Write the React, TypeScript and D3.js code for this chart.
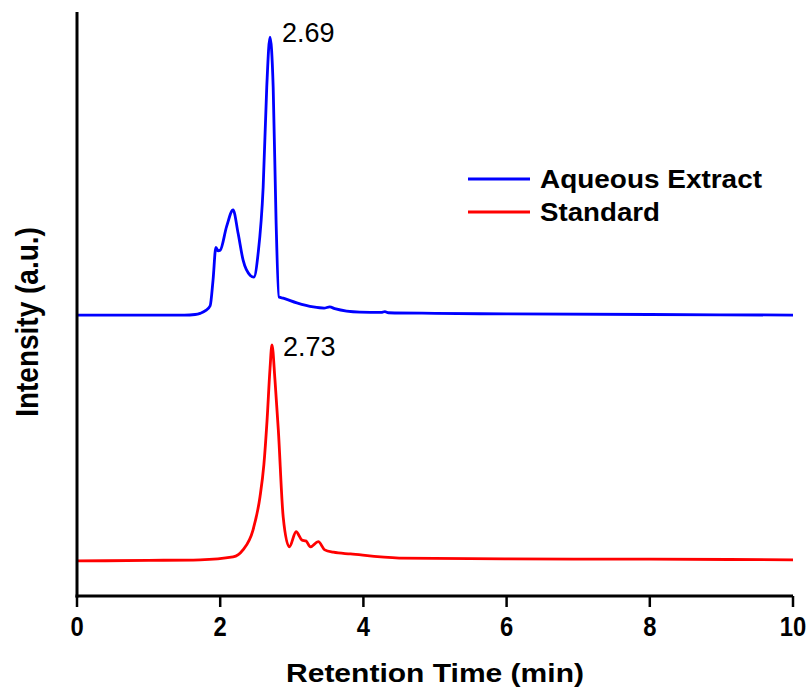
import React from "react";
import * as d3 from "d3";

const blueTime = [0, 1.0, 1.5, 1.65, 1.72, 1.8, 1.86, 1.9, 1.94, 1.97, 2.0, 2.09, 2.18, 2.25, 2.32, 2.42, 2.47, 2.53, 2.6, 2.65, 2.695, 2.74, 2.78, 2.82, 2.88, 3.07, 3.3, 3.45, 3.53, 3.6, 3.95, 4.25, 4.3, 4.35, 5, 6, 8, 10];
const blueValue = [0, 0, 0, 0.1, 0.3, 0.8, 1.6, 6.0, 11.6, 11.0, 11.1, 15.2, 18.0, 14.0, 9.4, 6.8, 6.5, 10.6, 21.9, 39.0, 47.6, 39.0, 16.3, 3.1, 2.9, 2.1, 1.4, 1.2, 1.4, 1.1, 0.5, 0.45, 0.6, 0.4, 0.3, 0.2, 0.1, 0];

const redTime = [0, 1.0, 1.72, 2.18, 2.318, 2.458, 2.556, 2.61, 2.654, 2.696, 2.723, 2.765, 2.812, 2.88, 2.965, 3.06, 3.14, 3.2, 3.26, 3.37, 3.46, 3.58, 3.82, 4.5, 6, 8, 10];
const redValue = [0, 0.1, 0.2, 0.7, 1.9, 5.3, 11.0, 16.5, 24.0, 33.0, 37.0, 31.0, 22.4, 7.5, 2.4, 5.0, 3.6, 3.4, 2.4, 3.3, 1.9, 1.5, 1.2, 0.5, 0.35, 0.3, 0.2];

const blueOffset = 48.1;
const redOffset = 6.0;

const xTicks = [0, 2, 4, 6, 8, 10];
const seriesNames = ["Aqueous Extract", "Standard"];
const seriesColors = ["#0000ff", "#ff0000"];
const peakLabels = ["2.69", "2.73"];
const peakTimes = [2.695, 2.723];

export default function App() {
  const width = 810;
  const height = 690;
  const left = 77;
  const right = 793;
  const top = 12;
  const bottom = 596;

  const x = d3.scaleLinear().domain([0, 10]).range([left, right]);
  const y = d3.scaleLinear().domain([0, 100]).range([bottom, top]);

  const line = d3
    .line<[number, number]>()
    .x((d) => x(d[0]))
    .y((d) => y(d[1]))
    .curve(d3.curveMonotoneX);

  const blueData: [number, number][] = blueTime.map((t, i) => [t, blueValue[i] + blueOffset]);
  const redData: [number, number][] = redTime.map((t, i) => [t, redValue[i] + redOffset]);

  const bluePeak = d3.max(blueValue)! + blueOffset;
  const redPeak = d3.max(redValue)! + redOffset;

  const font = "'Liberation Sans', Arial, sans-serif";

  return (
    <svg
      width={width}
      height={height}
      style={{ position: "absolute", left: 0, top: 0, background: "#fff" }}
      fontFamily={font}
    >
      <path d={line(blueData)!} fill="none" stroke={seriesColors[0]} strokeWidth={2.8} strokeLinejoin="round" />
      <path d={line(redData)!} fill="none" stroke={seriesColors[1]} strokeWidth={2.8} strokeLinejoin="round" />

      {/* axes */}
      <line x1={left} y1={top} x2={left} y2={bottom + 1.5} stroke="#000" strokeWidth={3} />
      <line x1={left - 1.5} y1={bottom} x2={right} y2={bottom} stroke="#000" strokeWidth={3} />
      {xTicks.map((t) => (
        <g key={t}>
          <line x1={x(t)} y1={bottom} x2={x(t)} y2={bottom + 11} stroke="#000" strokeWidth={2.5} />
          <text
            transform={`translate(${x(t)}, ${bottom + 40}) scale(0.85, 1)`}
            textAnchor="middle"
            fontSize={28}
            fontWeight="bold"
          >
            {t}
          </text>
        </g>
      ))}

      <text
        x={(left + right) / 2}
        y={682}
        textAnchor="middle"
        fontSize={26}
        fontWeight="bold"
        textLength={298}
        lengthAdjust="spacingAndGlyphs"
      >
        Retention Time (min)
      </text>
      <text
        transform={`translate(38, 322) scale(1.15, 1) rotate(-90)`}
        textAnchor="middle"
        fontSize={28}
        fontWeight="bold"
      >
        Intensity (a.u.)
      </text>

      {/* peak labels */}
      <text x={x(peakTimes[0]) + 12} y={y(bluePeak) + 5} fontSize={27}>
        {peakLabels[0]}
      </text>
      <text x={x(peakTimes[1]) + 11} y={y(redPeak) + 11} fontSize={27}>
        {peakLabels[1]}
      </text>

      {/* legend */}
      {seriesNames.map((n, i) => (
        <g key={n} transform={`translate(468, ${179 + i * 33})`}>
          <line x1={0} x2={62} y1={0} y2={0} stroke={seriesColors[i]} strokeWidth={2.8} />
          <text
            x={72}
            y={9}
            fontSize={26}
            fontWeight="bold"
            textLength={i === 0 ? 222 : 120}
            lengthAdjust="spacingAndGlyphs"
          >
            {n}
          </text>
        </g>
      ))}
    </svg>
  );
}
